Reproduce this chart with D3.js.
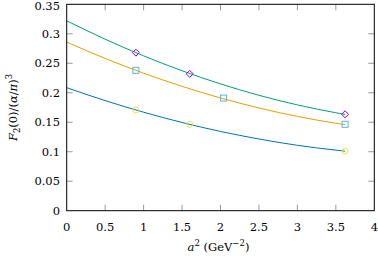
<!DOCTYPE html>
<html lang="en">
<head>
<meta charset="UTF-8">
<title>F2(0) vs a^2</title>
<script src="https://d3js.org/d3.v7.min.js"></script>
<style>
    body { margin: 0; background: #fff; }
</style>
</head>
<body>
<div id="chart"></div>
<script>
    // data points (a^2 in GeV^-2)
    const diamondX = [0.90, 1.60, 3.62];
    const diamondY = [0.268, 0.232, 0.1635];
    const squareX = [0.90, 2.04, 3.62];
    const squareY = [0.238, 0.191, 0.1465];
    const circleX = [0.90, 1.60, 3.62];
    const circleY = [0.1708, 0.1465, 0.101];

    // fit curves
    const fitX = [0, 0.5, 1, 1.5, 2, 2.5, 3, 3.5, 3.62];
    const fitGreen = [0.322, 0.2908, 0.2626, 0.2373, 0.2150, 0.1957, 0.1794, 0.1661, 0.1633];
    const fitOrange = [0.286, 0.2582, 0.2332, 0.2109, 0.1912, 0.1742, 0.1599, 0.1483, 0.1460];
    const fitBlue = [0.2086, 0.1867, 0.1670, 0.1496, 0.1344, 0.1216, 0.1109, 0.1027, 0.1010];

    const xTicks = [0, 0.5, 1, 1.5, 2, 2.5, 3, 3.5, 4];
    const yTicks = [0, 0.05, 0.1, 0.15, 0.2, 0.25, 0.3, 0.35];

    const width = 378, height = 257;
    const mLeft = 66.7, mRight = 374.3, mTop = 4.3, mBottom = 210.7;

    const svg = d3.select('#chart').append('svg')
        .attr('width', width)
        .attr('height', height)
        .attr('font-family', "'DejaVu Serif', serif")
        .attr('font-size', 11.5);

    const x = d3.scaleLinear().domain([0, 4]).range([mLeft, mRight]);
    const y = d3.scaleLinear().domain([0, 0.35]).range([mBottom, mTop]);

    // ticks (inward, on all four sides)
    const tk = 6;
    const ticks = svg.append('g').attr('stroke', '#999').attr('stroke-width', 1);
    xTicks.slice(1, -1).forEach(v => {
        ticks.append('line').attr('x1', x(v)).attr('x2', x(v)).attr('y1', mBottom).attr('y2', mBottom - tk);
        ticks.append('line').attr('x1', x(v)).attr('x2', x(v)).attr('y1', mTop).attr('y2', mTop + tk);
    });
    yTicks.slice(1, -1).forEach(v => {
        ticks.append('line').attr('x1', mLeft).attr('x2', mLeft + tk).attr('y1', y(v)).attr('y2', y(v));
        ticks.append('line').attr('x1', mRight).attr('x2', mRight - tk).attr('y1', y(v)).attr('y2', y(v));
    });

    // tick labels
    svg.append('g').selectAll('text').data(xTicks).enter().append('text')
        .attr('x', d => x(d)).attr('y', 231)
        .attr('text-anchor', 'middle')
        .text(d => d3.format('')(d));
    svg.append('g').selectAll('text').data(yTicks).enter().append('text')
        .attr('x', 60).attr('y', d => Math.max(y(d) + 4.2, 9.5))
        .attr('text-anchor', 'end')
        .text(d => d3.format('')(d));

    // fit lines
    const line = vals => d3.line()
        .x((d, i) => x(fitX[i]))
        .y(d => y(d))
        .curve(d3.curveMonotoneX)(vals);
    const fits = svg.append('g');
    [[fitGreen, '#009e73'], [fitOrange, '#e69f00'], [fitBlue, '#0072b2']].forEach(([vals, col]) => {
        fits.append('path').attr('d', line(vals))
            .attr('fill', 'none').attr('stroke', col).attr('stroke-width', 1);
    });

    // markers
    const marks = svg.append('g').attr('fill', 'none').attr('stroke-width', 1);
    diamondX.forEach((v, i) => {
        const cx = x(v), cy = y(diamondY[i]);
        marks.append('path')
            .attr('d', `M${cx},${cy - 3.5}L${cx + 3.5},${cy}L${cx},${cy + 3.5}L${cx - 3.5},${cy}Z`)
            .attr('stroke', '#9400d3');
    });
    squareX.forEach((v, i) => {
        marks.append('rect')
            .attr('x', x(v) - 3).attr('y', y(squareY[i]) - 3)
            .attr('width', 6).attr('height', 6)
            .attr('stroke', '#56b4e9');
    });
    circleX.forEach((v, i) => {
        marks.append('circle')
            .attr('cx', x(v)).attr('cy', y(circleY[i])).attr('r', 3)
            .attr('stroke', '#f0e442');
    });

    // frame
    svg.append('rect')
        .attr('x', mLeft).attr('y', mTop)
        .attr('width', mRight - mLeft).attr('height', mBottom - mTop)
        .attr('fill', 'none').attr('stroke', '#000').attr('stroke-width', 1);

    // axis titles
    const xl = svg.append('text').attr('x', (mLeft + mRight) / 2 - 2).attr('y', 251).attr('text-anchor', 'middle');
    xl.append('tspan').attr('font-style', 'italic').text('a');
    xl.append('tspan').attr('font-size', 8.5).attr('dy', -5).text('2');
    xl.append('tspan').attr('dy', 5).text(' (GeV');
    xl.append('tspan').attr('font-size', 8.5).attr('dy', -5).text('−2');
    xl.append('tspan').attr('dy', 5).text(')');

    const yl = svg.append('text')
        .attr('transform', `translate(17,${(mTop + mBottom) / 2}) rotate(-90)`)
        .attr('text-anchor', 'middle');
    yl.append('tspan').attr('font-style', 'italic').text('F');
    yl.append('tspan').attr('font-size', 8.5).attr('dy', 3).text('2');
    yl.append('tspan').attr('dy', -3).text('(0)/(');
    yl.append('tspan').attr('font-style', 'italic').text('α');
    yl.append('tspan').text('/');
    yl.append('tspan').attr('font-style', 'italic').text('π');
    yl.append('tspan').text(')');
    yl.append('tspan').attr('font-size', 8.5).attr('dy', -5).text('3');
</script>
</body>
</html>
